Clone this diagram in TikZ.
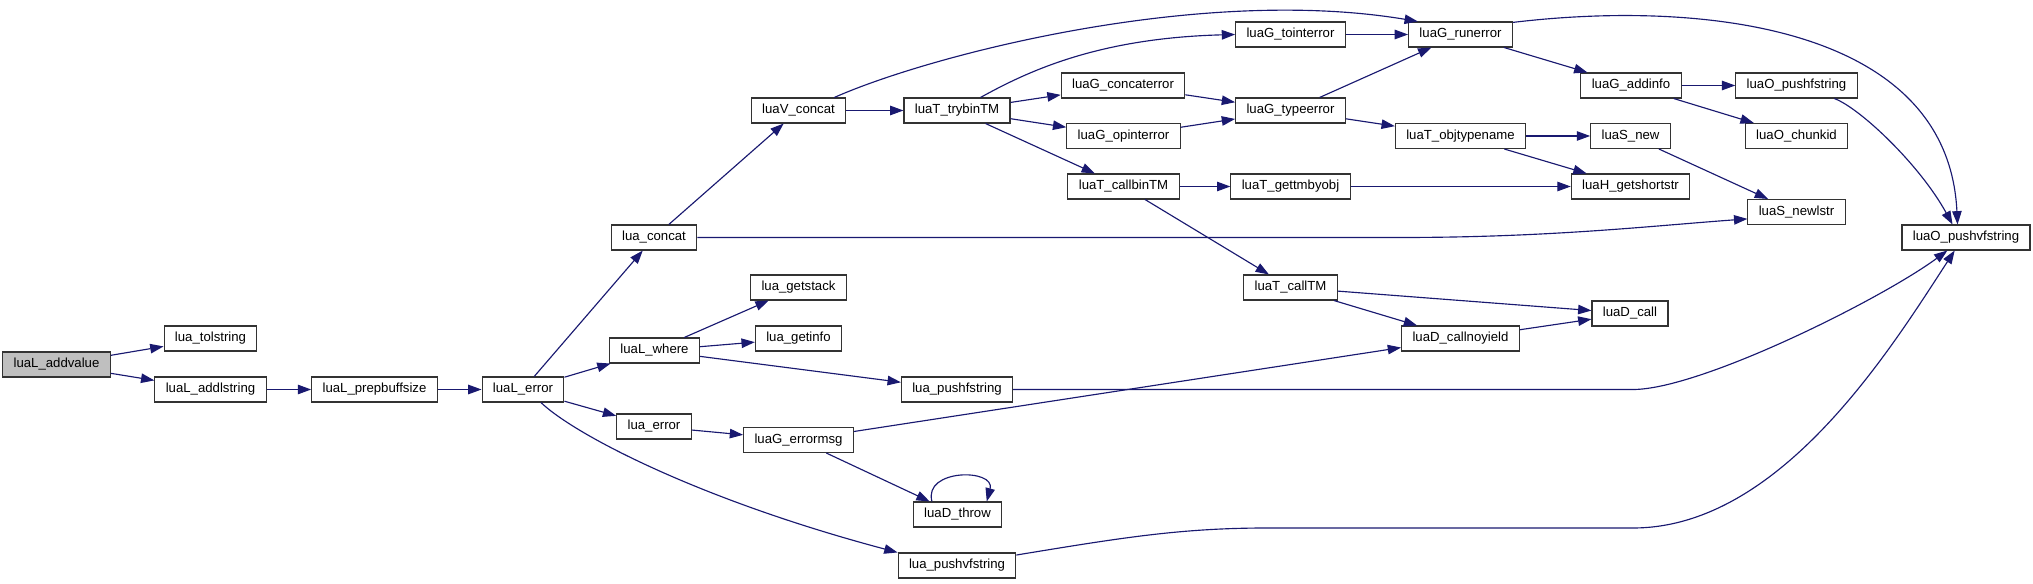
\documentclass[tikz,border=0pt]{standalone}
\usepackage{fontspec}
\setmainfont{Liberation Sans}
\usetikzlibrary{arrows.meta}
\definecolor{edgeblue}{RGB}{25,25,112}
\definecolor{rootgrey}{RGB}{191,191,191}

\begin{document}
\begin{tikzpicture}[x=0.02cm,y=-0.02cm]
  \tikzstyle{fn}=[draw=black!80,line width=0.6pt,fill=white,minimum height=0.5cm,
    inner xsep=6.2pt,inner ysep=1pt,font=\fontsize{7.5}{9}\selectfont]
  \tikzstyle{rootfn}=[fn,fill=rootgrey]
  \tikzstyle{call}=[-{Triangle[length=7.6pt,width=5.4pt]},edgeblue,line width=0.65pt]
  \useasboundingbox (0,0) rectangle (2033,584);

  % -- caller side --
  \node[rootfn] (addvalue) at (56.5,364.5) {luaL\_addvalue};
  \node[fn] (tolstring) at (210.5,338.5) {lua\_tolstring};
  \node[fn] (addlstring) at (210.5,389.5) {luaL\_addlstring};
  \node[fn] (prepbuf) at (374.5,389.5) {luaL\_prepbuffsize};
  \node[fn] (lerror) at (523,389.5) {luaL\_error};
  \node[fn] (lconcat) at (654,237.5) {lua\_concat};
  \node[fn] (lwhere) at (654.5,350.5) {luaL\_where};
  \node[fn] (luaerror) at (654,426.5) {lua\_error};
  \node[fn] (vconcat) at (798.5,110.5) {luaV\_concat};
  \node[fn] (getstack) at (798.5,287.5) {lua\_getstack};
  \node[fn] (getinfo) at (798.5,338.5) {lua\_getinfo};
  \node[fn] (errormsg) at (798.5,440) {luaG\_errormsg};
  \node[fn] (trybin) at (957,110.5) {luaT\_trybinTM};
  \node[fn] (pushfstr) at (957,389.5) {lua\_pushfstring};
  \node[fn] (dthrow) at (957.5,514.5) {luaD\_throw};
  \node[fn] (pushvfstr) at (957,565.5) {lua\_pushvfstring};

  % -- middle columns --
  \node[fn] (concaterr) at (1123,85.5) {luaG\_concaterror};
  \node[fn] (opinterr) at (1123.5,136) {luaG\_opinterror};
  \node[fn] (callbin) at (1123.5,186.5) {luaT\_callbinTM};
  \node[fn] (tointerr) at (1290.5,34.5) {luaG\_tointerror};
  \node[fn] (typeerr) at (1290.5,110.5) {luaG\_typeerror};
  \node[fn] (gettm) at (1290.5,186.5) {luaT\_gettmbyobj};
  \node[fn] (calltm) at (1290.5,287.5) {luaT\_callTM};
  \node[fn] (runerr) at (1460.5,34.5) {luaG\_runerror};
  \node[fn] (objtype) at (1460.5,136) {luaT\_objtypename};
  \node[fn] (noyield) at (1460.5,338.5) {luaD\_callnoyield};

  % -- callee side --
  \node[fn] (addinfo) at (1631,85.5) {luaG\_addinfo};
  \node[fn] (snew) at (1630.5,136) {luaS\_new};
  \node[fn] (getshort) at (1630.5,186.5) {luaH\_getshortstr};
  \node[fn] (dcall) at (1630,313.5) {luaD\_call};
  \node[fn] (opushf) at (1796.5,85.5) {luaO\_pushfstring};
  \node[fn] (chunkid) at (1796.5,136) {luaO\_chunkid};
  \node[fn] (newlstr) at (1796.5,212) {luaS\_newlstr};
  \node[fn] (opushvf) at (1966,237.5) {luaO\_pushvfstring};

  % -- calls --
  \draw[call] (addvalue) -- (tolstring);
  \draw[call] (addvalue) -- (addlstring);
  \draw[call] (addlstring) -- (prepbuf);
  \draw[call] (prepbuf) -- (lerror);
  \draw[call] (lerror) -- (lconcat);
  \draw[call] (lerror) -- (lwhere);
  \draw[call] (lerror) -- (luaerror);
  \draw[call] (lerror.-36) .. controls (575,435) and (700,500) .. (pushvfstr.north west);
  \draw[call] (lconcat) -- (vconcat);
  \draw[call] (lconcat.east) -- (1400,237.5) .. controls (1550,237.5) and (1650,226) .. (newlstr.188);
  \draw[call] (vconcat) -- (trybin);
  \draw[call] (vconcat.20) .. controls (930,55) and (1200,-15) .. (runerr.163);
  \draw[call] (trybin.29) .. controls (1030,70) and (1100,38) .. (tointerr.west);
  \draw[call] (trybin) -- (concaterr);
  \draw[call] (trybin) -- (opinterr);
  \draw[call] (trybin) -- (callbin);
  \draw[call] (tointerr) -- (runerr);
  \draw[call] (concaterr) -- (typeerr);
  \draw[call] (opinterr) -- (typeerr);
  \draw[call] (typeerr) -- (runerr);
  \draw[call] (typeerr) -- (objtype);
  \draw[call] (runerr) -- (addinfo);
  \draw[call] (runerr.13) .. controls (1700,0) and (1948,25) .. (opushvf.123);
  \draw[call] (addinfo) -- (opushf);
  \draw[call] (addinfo) -- (chunkid);
  \draw[call] (opushf.-19) .. controls (1860,108) and (1920,165) .. (opushvf.136);
  \draw[call] (objtype) -- (snew);
  \draw[call] (objtype) -- (getshort);
  \draw[call] (snew) -- (newlstr);
  \draw[call] (callbin) -- (gettm);
  \draw[call] (callbin) -- (calltm);
  \draw[call] (gettm) -- (getshort);
  \draw[call] (calltm) -- (dcall);
  \draw[call] (calltm) -- (noyield);
  \draw[call] (noyield) -- (dcall);
  \draw[call] (lwhere) -- (getstack);
  \draw[call] (lwhere) -- (getinfo);
  \draw[call] (lwhere) -- (pushfstr);
  \draw[call] (pushfstr.east) -- (1633,389.5) .. controls (1700,389.5) and (1880,300) .. (opushvf.215);
  \draw[call] (luaerror) -- (errormsg);
  \draw[call] (errormsg) -- (noyield);
  \draw[call] (errormsg) -- (dthrow);
  \draw[call] (dthrow.153) to[out=105,in=75,looseness=1.6] (dthrow.24);
  \draw[call] (pushvfstr.10) .. controls (1120,538) and (1180,528) .. (1267,528) -- (1633,528)
    .. controls (1780,528) and (1890,350) .. (opushvf.229);
\end{tikzpicture}
\end{document}
